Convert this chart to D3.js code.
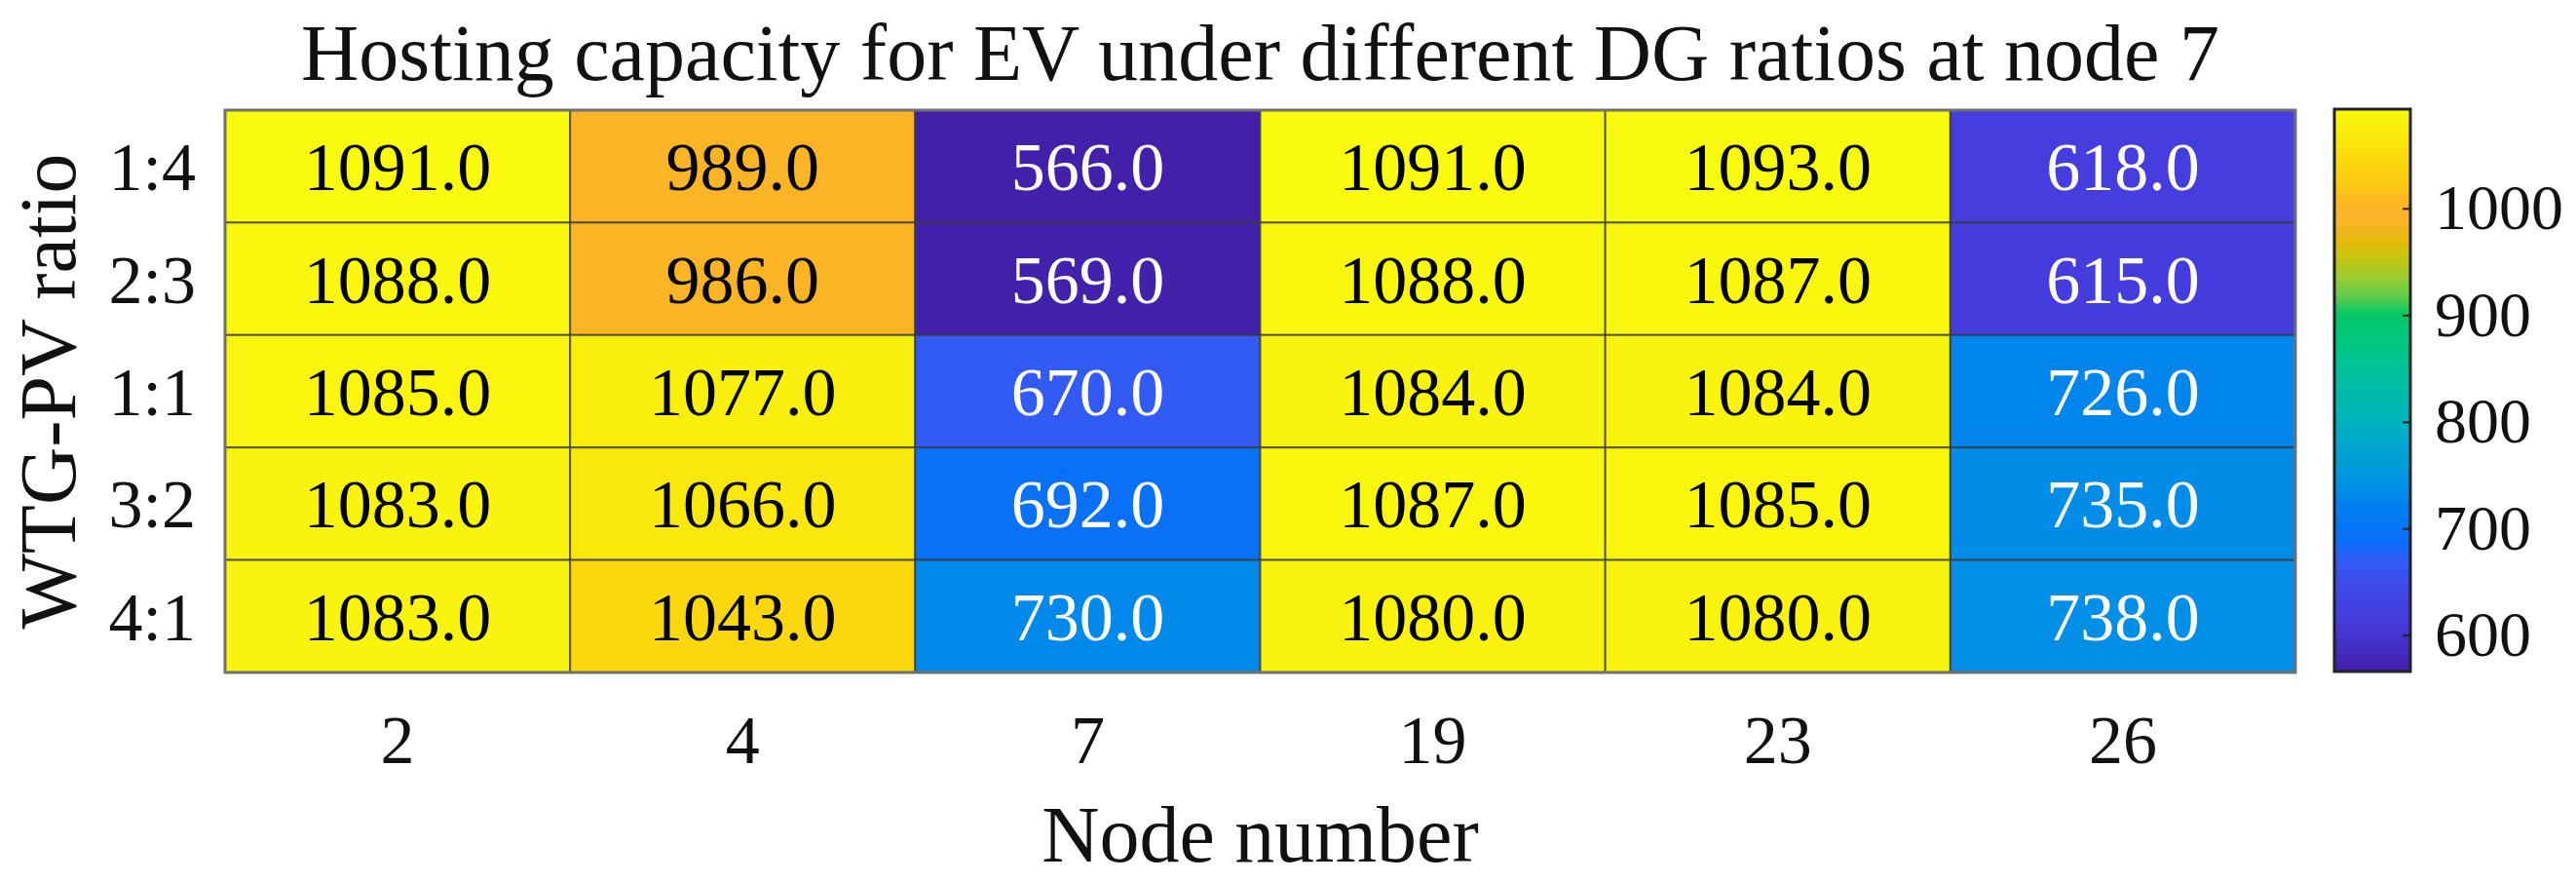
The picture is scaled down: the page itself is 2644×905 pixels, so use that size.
<!DOCTYPE html>
<html>
<head>
<meta charset="utf-8">
<script src="https://cdn.jsdelivr.net/npm/d3@7"></script>
<style>
  body { margin: 0; background: #fff; }
  text { font-family: "Liberation Serif", "Times New Roman", serif; fill: #111; }
</style>
</head>
<body>
<script>
// categories
var nodes = ["2", "4", "7", "19", "23", "26"];
var ratios = ["1:4", "2:3", "1:1", "3:2", "4:1"];

// hosting capacity per WTG-PV ratio, one value per node
var cap_1_4 = [1091, 989, 566, 1091, 1093, 618];
var cap_2_3 = [1088, 986, 569, 1088, 1087, 615];
var cap_1_1 = [1085, 1077, 670, 1084, 1084, 726];
var cap_3_2 = [1083, 1066, 692, 1087, 1085, 735];
var cap_4_1 = [1083, 1043, 730, 1080, 1080, 738];

var colorTicks = [600, 700, 800, 900, 1000];

var rowsList = [cap_1_4, cap_2_3, cap_1_1, cap_3_2, cap_4_1];

var W = 2644, H = 905;
var pL = 231, pR = 2356, pT = 113, pB = 690;

var svg = d3.select("body").append("svg")
    .attr("width", W)
    .attr("height", H);

var cells = [];
rowsList.forEach(function(row, i) {
  row.forEach(function(v, j) {
    cells.push({ratio: ratios[i], node: nodes[j], value: v});
  });
});

var vmin = d3.min(cells, function(d) { return d.value; });
var vmax = d3.max(cells, function(d) { return d.value; });

var x = d3.scaleBand().domain(nodes).range([pL, pR]);
var y = d3.scaleBand().domain(ratios).range([pT, pB]);

// parula-like colormap, positions in 0..1
var cmapPos = [0, 0.085, 0.143, 0.20, 0.23, 0.288, 0.345, 0.444, 0.546, 0.604, 0.634,
               0.674, 0.698, 0.738, 0.768, 0.797, 0.8235, 0.864, 0.932, 1];
var cmapCol = ["#4220aa", "#463adc", "#4046e6", "#305cf5", "#0a6efa", "#007ef0", "#0096e1",
               "#00b2be", "#00c396", "#00c878", "#05c864", "#6ecd46", "#96cd32", "#c8c30f",
               "#e6b90a", "#fab424", "#fcb328", "#fcc814", "#fae10a", "#f9fb0e"];
var norm = d3.scaleLinear().domain([vmin, vmax]).range([0, 1]).clamp(true);
var cmap = d3.scaleLinear().domain(cmapPos).range(cmapCol).interpolate(d3.interpolateRgb);
function color(v) { return cmap(norm(v)); }

// cells
svg.append("g").selectAll("rect")
    .data(cells)
  .enter().append("rect")
    .attr("x", function(d) { return x(d.node); })
    .attr("y", function(d) { return y(d.ratio); })
    .attr("width", x.bandwidth())
    .attr("height", y.bandwidth())
    .attr("fill", function(d) { return color(d.value); })
    .attr("stroke", "#3a3a3a")
    .attr("stroke-opacity", 0.75)
    .attr("stroke-width", 2);

svg.append("g").selectAll("text")
    .data(cells)
  .enter().append("text")
    .attr("x", function(d) { return x(d.node) + x.bandwidth() / 2; })
    .attr("y", function(d) { return y(d.ratio) + y.bandwidth() / 2; })
    .attr("dy", "0.35em")
    .attr("text-anchor", "middle")
    .style("font-size", "70px")
    .style("fill", function(d) { return norm(d.value) < 0.5 ? "#fff" : "#000"; })
    .text(function(d) { return d.value.toFixed(1); });

// outer frame
svg.append("rect")
    .attr("x", pL).attr("y", pT)
    .attr("width", pR - pL).attr("height", pB - pT)
    .attr("fill", "none").attr("stroke", "#707070").attr("stroke-width", 3);

// axes labels
svg.append("g").selectAll("text")
    .data(nodes)
  .enter().append("text")
    .attr("x", function(d) { return x(d) + x.bandwidth() / 2; })
    .attr("y", 783)
    .attr("text-anchor", "middle")
    .style("font-size", "70px")
    .text(function(d) { return d; });

svg.append("g").selectAll("text")
    .data(ratios)
  .enter().append("text")
    .attr("x", 201)
    .attr("y", function(d) { return y(d) + y.bandwidth() / 2; })
    .attr("dy", "0.35em")
    .attr("text-anchor", "end")
    .style("font-size", "70px")
    .text(function(d) { return d; });

svg.append("text")
    .attr("x", (pL + pR) / 2)
    .attr("y", 82)
    .attr("text-anchor", "middle")
    .style("font-size", "82px")
    .text("Hosting capacity for EV under different DG ratios at node 7");

svg.append("text")
    .attr("x", (pL + pR) / 2)
    .attr("y", 884)
    .attr("text-anchor", "middle")
    .style("font-size", "82px")
    .text("Node number");

svg.append("text")
    .attr("transform", "translate(77," + ((pT + pB) / 2) + ") rotate(-90)")
    .attr("text-anchor", "middle")
    .style("font-size", "82px")
    .text("WTG-PV ratio");

// colorbar
var cbL = 2396, cbR = 2474, cbT = 112, cbB = 689;
var cy = d3.scaleLinear().domain([vmin, vmax]).range([cbB, cbT]);

var defs = svg.append("defs");
var grad = defs.append("linearGradient")
    .attr("id", "cbgrad")
    .attr("x1", 0).attr("y1", 1).attr("x2", 0).attr("y2", 0);
grad.selectAll("stop")
    .data(cmapPos)
  .enter().append("stop")
    .attr("offset", function(d) { return d; })
    .attr("stop-color", function(d, i) { return cmapCol[i]; });

svg.append("rect")
    .attr("x", cbL).attr("y", cbT)
    .attr("width", cbR - cbL).attr("height", cbB - cbT)
    .attr("fill", "url(#cbgrad)")
    .attr("stroke", "#222").attr("stroke-width", 3);

var cAxis = svg.append("g")
    .attr("transform", "translate(" + cbR + ",0)")
    .call(d3.axisRight(cy).tickValues(colorTicks).tickFormat(d3.format("d"))
      .tickSizeInner(-8).tickSizeOuter(0).tickPadding(25));
cAxis.select(".domain").remove();
cAxis.selectAll("line").attr("stroke", "#222").attr("stroke-width", 2);
cAxis.selectAll("text")
    .style("font-family", "'Liberation Serif', 'Times New Roman', serif")
    .style("font-size", "66px")
    .attr("fill", "#111");
</script>
</body>
</html>
